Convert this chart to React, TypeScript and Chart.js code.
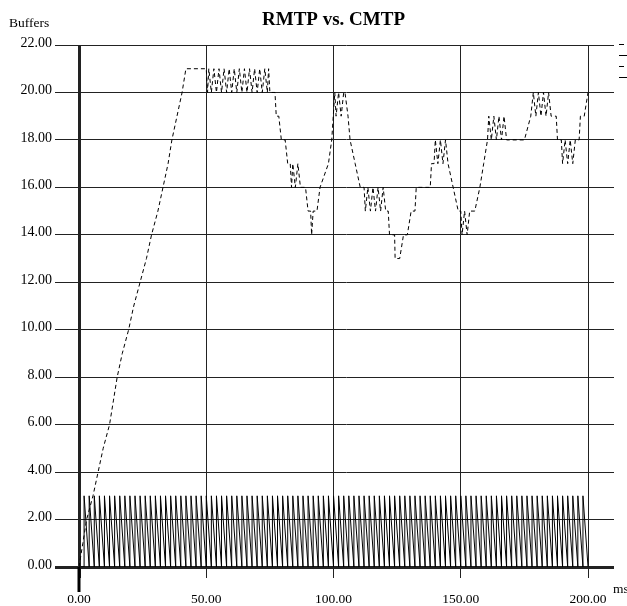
import React, { useEffect, useRef } from "react";
import { Chart, registerables } from "chart.js";

Chart.register(...registerables);

const TITLE = "RMTP vs. CMTP";
const Y_LABEL = "Buffers";
const X_LABEL = "ms";
const X_TICKS = [0, 50, 100, 150, 200];
const Y_MIN = 0;
const Y_MAX = 22;
const Y_STEP = 2;
const X_MIN = 0;
const X_MAX = 210.2;
const X_TITLE_CENTER = 100;

// Solid series: sawtooth, instant rise to its peak then linear drain
const sawPeakTimes = [
  2, 4, 6, 8, 10, 12, 14, 16, 18, 20, 22, 24, 26, 28, 30, 32, 34, 36, 38, 40,
  42, 44, 46, 48, 50, 52, 54, 56, 58, 60, 62, 64, 66, 68, 70, 72, 74, 76, 78, 80,
  82, 84, 86, 88, 90, 92, 94, 96, 98, 100, 102, 104, 106, 108, 110, 112, 114, 116, 118, 120,
  122, 124, 126, 128, 130, 132, 134, 136, 138, 140, 142, 144, 146, 148, 150, 152, 154, 156, 158, 160,
  162, 164, 166, 168, 170, 172, 174, 176, 178, 180, 182, 184, 186, 188, 190, 192, 194, 196, 198,
];
const sawPeakValues = [
  3, 3, 3, 3, 3, 3, 3, 3, 3, 3, 3, 3, 3, 3, 3, 3, 3, 3, 3, 3,
  3, 3, 3, 3, 3, 3, 3, 3, 3, 3, 3, 3, 3, 3, 3, 3, 3, 3, 3, 3,
  3, 3, 3, 3, 3, 3, 3, 3, 3, 3, 3, 3, 3, 3, 3, 3, 3, 3, 3, 3,
  3, 3, 3, 3, 3, 3, 3, 3, 3, 3, 3, 3, 3, 3, 3, 3, 3, 3, 3, 3,
  3, 3, 3, 3, 3, 3, 3, 3, 3, 3, 3, 3, 3, 3, 3, 3, 3, 3, 3,
];
const sawStart = 0;
const sawEnd = 200;

// Dashed series: buffer occupancy over time
const dashT = [
  0, 1.5, 3, 5.5, 7.5, 9.5, 12, 13.5, 15, 17, 19.5, 21.5, 24, 26.5, 28.5, 31, 33, 35, 36.5, 38.5, 40.5, 42,
  50, 50.5, 51, 52, 53, 54, 55, 56, 57, 58, 59, 60, 61, 62, 63, 64, 65, 66, 67, 68, 69, 70, 71, 72, 73, 74, 74.5,
  75, 77, 77.5, 78.5, 79.5, 81, 82, 83, 83.5, 84, 85, 86, 87, 89, 90, 91, 91.4, 92, 93.5,
  94.7, 98, 99.3, 99.9, 100.5, 101, 102, 103, 104, 104.5, 105.7, 106.5, 108.5, 110.5,
  112, 112.5, 113.5, 114.5, 115.5, 116.5, 117.5, 118.5, 119.5, 120.5, 121.5, 122, 124, 124.2, 126,
  127.5, 129, 130.5, 132, 132.5, 138, 138.5, 139.5, 140, 141, 142, 143, 144, 145, 147, 149,
  150, 150.5, 151.5, 152.5, 153.5, 155.5, 157.5, 159, 160.5, 161, 162, 163, 164, 165, 166, 167, 168, 175,
  177.5, 178.5, 179.5, 180.5, 181.5, 182.5, 183.5, 184.5, 185.5, 187.5, 188, 189.5, 190, 191, 192, 193, 194, 195,
  196.5, 197, 198.5, 200,
];
const dashV = [
  0, 1, 2, 3, 4, 5, 6, 7, 8, 9, 10, 11, 12, 13, 14, 15, 16, 17, 18, 19, 20, 21,
  21, 20, 21, 20, 21, 20, 21, 20, 21, 20, 21, 20, 21, 20, 21, 20, 21, 20, 21, 20, 21, 20, 21, 20, 21, 20, 21,
  20, 20, 19, 19, 18, 18, 17, 17, 16, 17, 16, 17, 16, 16, 15, 15, 14, 15, 15,
  16, 17, 18, 19, 20, 19, 20, 19, 20, 20, 19, 18, 17, 16,
  16, 15, 16, 15, 16, 15, 16, 15, 16, 15, 15, 14, 14, 13, 13,
  14, 14, 15, 15, 16, 16, 17, 17, 18, 17, 18, 17, 18, 17, 16, 15,
  15, 14, 15, 14, 15, 15, 16, 17, 18, 19, 18, 19, 18, 19, 18, 19, 18, 18,
  19, 20, 19, 20, 19, 20, 19, 20, 19, 19, 18, 18, 17, 18, 17, 18, 17, 18,
  18, 19, 19, 20,
];

const FONT = "'Liberation Serif', 'DejaVu Serif', serif";

function buildSaw() {
  const pts: { x: number; y: number }[] = [{ x: sawStart, y: 0 }];
  sawPeakTimes.forEach((t, i) => {
    pts.push({ x: t, y: 0 });
    pts.push({ x: t, y: sawPeakValues[i] });
  });
  pts.push({ x: sawEnd, y: 0 });
  return pts;
}

const decorPlugin = {
  id: "decor",
  afterDraw(chart: any) {
    const { ctx, chartArea, scales } = chart;
    const x0 = scales.x.getPixelForValue(0);
    ctx.save();
    // extension of the thick vertical axis below the x axis
    ctx.strokeStyle = "#000";
    ctx.lineWidth = 3;
    ctx.beginPath();
    ctx.moveTo(x0, chartArea.bottom);
    ctx.lineTo(x0, chartArea.bottom + 25);
    ctx.stroke();
    // clipped legend samples at right edge
    ctx.lineWidth = 1;
    for (let i = 0; i < 4; i++) {
      const y = Math.round(chartArea.top - 1 + i * 11) + 0.5;
      ctx.beginPath();
      ctx.moveTo(chartArea.right + 5, y);
      ctx.lineTo(chartArea.right + (i % 2 === 0 ? 10 : 13), y);
      ctx.stroke();
    }
    ctx.fillStyle = "#000";
    ctx.font = `bold 19px ${FONT}`;
    ctx.textAlign = "center";
    ctx.textBaseline = "alphabetic";
    ctx.fillText(TITLE, scales.x.getPixelForValue(X_TITLE_CENTER), 25);
    ctx.font = `13.5px ${FONT}`;
    ctx.textAlign = "left";
    ctx.fillText(Y_LABEL, 9, 27);
    ctx.fillText(X_LABEL, chartArea.right - 1, chartArea.bottom + 26);
    ctx.restore();
  },
};

export default function App() {
  const ref = useRef<HTMLCanvasElement | null>(null);
  useEffect(() => {
    document.body.style.margin = "0";
    const canvas = ref.current!;
    const chart = new Chart(canvas, {
      type: "line",
      data: {
        datasets: [
          {
            label: "saw",
            data: buildSaw(),
            borderColor: "#000",
            borderWidth: 1,
            pointRadius: 0,
            tension: 0,
            fill: false,
          },
          {
            label: "dash",
            data: dashT.map((t, i) => ({ x: t, y: dashV[i] })),
            borderColor: "#000",
            borderWidth: 1,
            borderDash: [4, 3],
            pointRadius: 0,
            tension: 0,
            fill: false,
          },
        ],
      },
      options: {
        animation: false,
        responsive: false,
        events: [],
        layout: { padding: { top: 45, left: 0, right: 13, bottom: 0 } },
        plugins: {
          legend: { display: false },
          title: { display: false },
          tooltip: { enabled: false },
        },
        scales: {
          x: {
            type: "linear",
            min: X_MIN,
            max: X_MAX,
            afterBuildTicks: (scale: any) => {
              scale.ticks = X_TICKS.map((v) => ({ value: v }));
            },
            afterFit: (scale: any) => {
              scale.height = 39;
            },
            grid: {
              color: "#222",
              lineWidth: (c: any) => (c.tick && c.tick.value === 0 ? 3 : 1),
              tickLength: 11,
            },
            border: { display: false },
            ticks: {
              color: "#000",
              font: { family: FONT, size: 13.5 },
              padding: 13,
              maxRotation: 0,
              autoSkip: false,
              callback: (v: any) => Number(v).toFixed(2),
            },
          },
          y: {
            type: "linear",
            min: Y_MIN,
            max: Y_MAX,
            afterFit: (scale: any) => {
              scale.width = 79;
            },
            grid: {
              color: "#222",
              lineWidth: (c: any) => (c.tick && c.tick.value === 0 ? 3 : 1),
              tickLength: 24,
            },
            border: { display: false },
            ticks: {
              stepSize: Y_STEP,
              color: "#000",
              font: { family: FONT, size: 14 },
              padding: 3,
              labelOffset: -2,
              callback: (v: any) => Number(v).toFixed(2),
            },
          },
        },
      },
      plugins: [decorPlugin],
    });
    return () => chart.destroy();
  }, []);
  return <canvas ref={ref} width={627} height={606} style={{ display: "block" }} />;
}
